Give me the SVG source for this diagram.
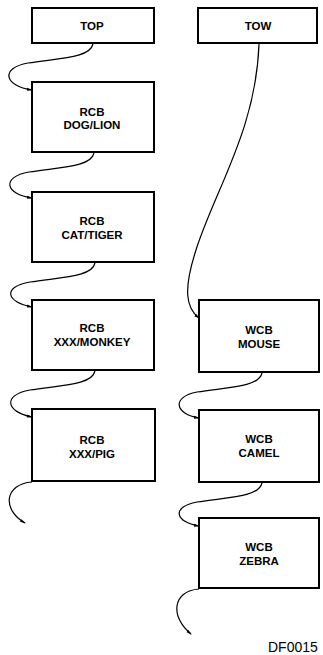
<svg xmlns="http://www.w3.org/2000/svg" width="323" height="655" viewBox="0 0 323 655">
<style>
.box{fill:#fff;stroke:#000;stroke-width:2}
.t{font-family:"Liberation Sans",Arial,sans-serif;font-weight:bold;font-size:11.5px;text-anchor:middle;fill:#000}
.c{fill:none;stroke:#000;stroke-width:1.2}
.lab{font-family:"Liberation Sans",Arial,sans-serif;font-size:14px;fill:#000}
</style>
<defs>
<marker id="ah" markerWidth="6" markerHeight="4" refX="5" refY="2" orient="auto" markerUnits="userSpaceOnUse">
<path d="M0,0.5 L6,2 L0,3.5 Z" fill="#000"/>
</marker>
</defs>
<rect width="323" height="655" fill="#fff"/>
<g id="connectors">
<path class="c" marker-end="url(#ah)" d="M93,44 C90,58 60,58 28,63 C0,68 4,86 32,90"/>
<path class="c" marker-end="url(#ah)" d="M94,153 C91,167 61,167 29,172 C1,177 5,194 32,198"/>
<path class="c" marker-end="url(#ah)" d="M95,263 C92,277 62,277 30,282 C2,287 6,302 32,307"/>
<path class="c" marker-end="url(#ah)" d="M95,371 C92,385 62,385 30,390 C2,395 6,412 32,417"/>
<path class="c" marker-end="url(#ah)" d="M32,482 C4,484 2,510 25,523"/>
<path class="c" marker-end="url(#ah)" d="M259,44 C256,130 215,190 196,250 C183,290 186,308 199,318"/>
<path class="c" marker-end="url(#ah)" d="M262,373 C259,387 229,387 197,392 C171,397 175,414 199,418"/>
<path class="c" marker-end="url(#ah)" d="M262,483 C259,497 229,497 197,502 C171,507 175,522 199,526"/>
<path class="c" marker-end="url(#ah)" d="M199,589 C172,591 170,617 191,634"/>
</g>
<g id="top"><rect class="box" x="32" y="8" width="122" height="35"/><text class="t" x="92" y="30">TOP</text></g>
<g id="dog"><rect class="box" x="32" y="82" width="122" height="70"/><text class="t" x="92" y="116">RCB</text><text class="t" x="92" y="129">DOG/LION</text></g>
<g id="cat"><rect class="box" x="32" y="192" width="122" height="70"/><text class="t" x="92" y="225">RCB</text><text class="t" x="92" y="239">CAT/TIGER</text></g>
<g id="monkey"><rect class="box" x="32" y="300" width="122" height="70"/><text class="t" x="92" y="332">RCB</text><text class="t" x="92" y="346">XXX/MONKEY</text></g>
<g id="pig"><rect class="box" x="32" y="409" width="123" height="72"/><text class="t" x="92" y="444">RCB</text><text class="t" x="92" y="458">XXX/PIG</text></g>
<g id="tow"><rect class="box" x="198" y="8" width="119" height="35"/><text class="t" x="258" y="30">TOW</text></g>
<g id="mouse"><rect class="box" x="199" y="300" width="120" height="72"/><text class="t" x="259" y="334">WCB</text><text class="t" x="259" y="348">MOUSE</text></g>
<g id="camel"><rect class="box" x="199" y="410" width="120" height="72"/><text class="t" x="259" y="443">WCB</text><text class="t" x="259" y="457">CAMEL</text></g>
<g id="zebra"><rect class="box" x="199" y="518" width="120" height="70"/><text class="t" x="259" y="551">WCB</text><text class="t" x="259" y="565">ZEBRA</text></g>
<text class="lab" x="268" y="652">DF0015</text>
</svg>
